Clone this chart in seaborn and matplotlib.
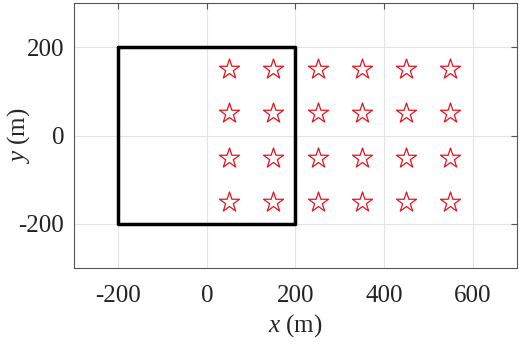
import numpy as np
import pandas as pd
import matplotlib
matplotlib.use("Agg")
import matplotlib.pyplot as plt
import seaborn as sns

# sensor positions (stars)
star_x = [50, 150, 250, 350, 450, 550]
star_y = [150, 50, -50, -150]
# square area outline
sq_x = [-200, 200, 200, -200, -200]
sq_y = [200, 200, -200, -200, 200]

x_ticks = [-200, 0, 200, 400, 600]
y_ticks = [-200, 0, 200]

sns.set_style("white")
plt.rcParams['font.family'] = ['Liberation Serif', 'DejaVu Serif']
plt.rcParams['mathtext.fontset'] = 'custom'
plt.rcParams['mathtext.rm'] = 'Liberation Serif'
plt.rcParams['mathtext.it'] = 'Liberation Serif:italic'
plt.rcParams['axes.unicode_minus'] = False

df = pd.DataFrame([(x, y) for y in star_y for x in star_x], columns=["x", "y"])
sq = pd.DataFrame({"x": sq_x, "y": sq_y})

fig = plt.figure(figsize=(5.2, 3.44), dpi=100)
ax = fig.add_axes([0.142, 0.221, 0.852, 0.770])

sns.lineplot(data=sq, x="x", y="y", sort=False, estimator=None, color="black",
             linewidth=2.5, ax=ax, zorder=3)
sns.scatterplot(data=df, x="x", y="y", marker="*", s=230, facecolor="white",
                edgecolor="#e3141e", linewidth=0.9, ax=ax, zorder=4)

ax.set_xlim(-300, 700)
ax.set_ylim(-300, 300)
ax.set_xticks(x_ticks)
ax.set_yticks(y_ticks)
ax.grid(True, color="#e3e3e3", linewidth=0.8)
ax.set_axisbelow(True)
for s in ax.spines.values():
    s.set_color("#555555")
    s.set_linewidth(0.8)
ax.tick_params(direction="in", top=True, right=True, length=4, color="#555555",
               labelsize=18, labelcolor="#222222", pad=7)
ax.tick_params(axis="x", pad=12)
ax.set_xlabel("$x$ (m)", fontsize=18, labelpad=4)
ax.set_ylabel("$y$ (m)", fontsize=18)
ax.yaxis.set_label_coords(-0.095, 0.5)

fig.savefig("out.png", dpi=100)
